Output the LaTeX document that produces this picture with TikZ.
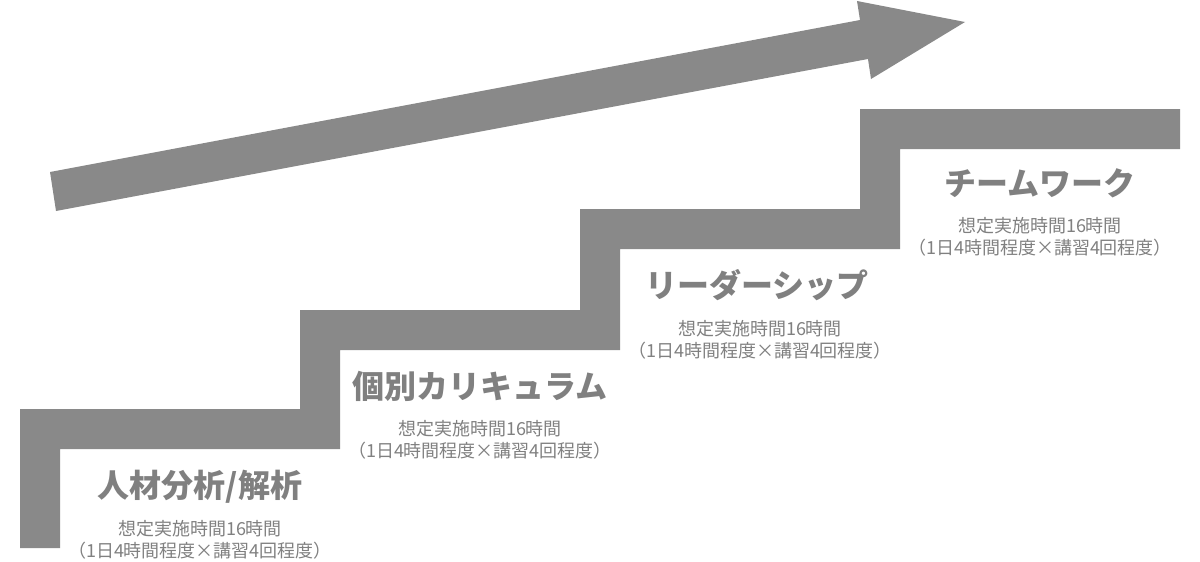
\documentclass[tikz,border=0pt]{standalone}
\usepackage{fontspec}
\setmainfont{Noto Sans CJK JP}
\usepackage{tikz}
\usetikzlibrary{calc}
\definecolor{stepgray}{HTML}{898989}
\definecolor{textgray}{HTML}{808080}

\begin{document}
\begin{tikzpicture} [x=0.5pt, y=-0.5pt]
\tikzstyle{title}=[text=textgray, font=\bfseries\fontsize{16pt}{18pt}\selectfont, inner sep=0pt];
\tikzstyle{hours}=[text=textgray, font=\fontsize{9pt}{11pt}\selectfont, inner sep=0pt, align=center];
\useasboundingbox (0,0) rectangle (1200,562);
% stairs
\fill[stepgray] (20,548) -- (20,409) -- (300,409) -- (300,310) -- (580,310) -- (580,209)
  -- (860,209) -- (860,109) -- (1180,109) -- (1180,149) -- (900,149) -- (900,249)
  -- (620,249) -- (620,350) -- (340,350) -- (340,449) -- (60,449) -- (60,548) -- cycle;
% arrow
\fill[stepgray] (50,172) -- (860,20) -- (857,1) -- (965,22) -- (871,79) -- (868,59)
  -- (56,211) -- cycle;
% steps
\node[title] (t1) at (200, 487) {人材分析/解析};
\node[hours] (h1) at (200, 540) {想定実施時間16時間\\（1日4時間程度×講習4回程度）};
\node[title] (t2) at (480, 386) {個別カリキュラム};
\node[hours] (h2) at (480, 440) {想定実施時間16時間\\（1日4時間程度×講習4回程度）};
\node[title] (t3) at (757, 285) {リーダーシップ};
\node[hours] (h3) at (760, 340) {想定実施時間16時間\\（1日4時間程度×講習4回程度）};
\node[title] (t4) at (1040, 183) {チームワーク};
\node[hours] (h4) at (1040, 237) {想定実施時間16時間\\（1日4時間程度×講習4回程度）};
\end{tikzpicture}
\end{document}
